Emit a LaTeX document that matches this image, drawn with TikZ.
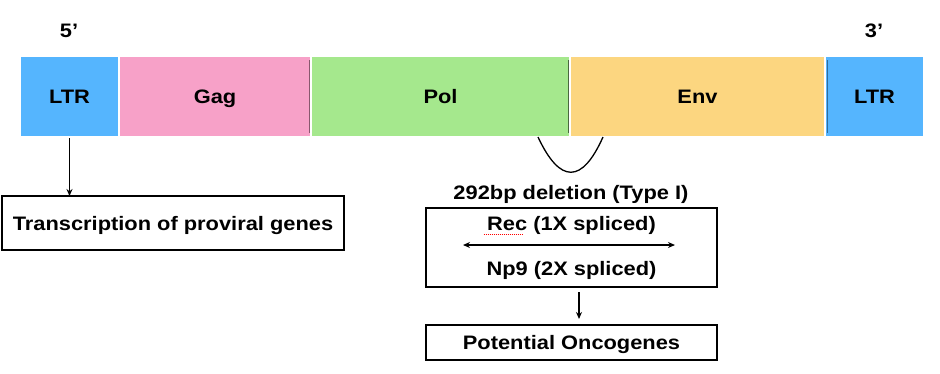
\documentclass[tikz,border=0pt]{standalone}
\usepackage{fontspec}
\setmainfont{Liberation Sans}[FakeStretch=1.12]
\usepackage{tikz}
\usetikzlibrary{positioning, arrows.meta}
\definecolor{ltrblue}{RGB}{85, 181, 254}
\definecolor{gagpink}{RGB}{247, 161, 200}
\definecolor{polgreen}{RGB}{165, 232, 141}
\definecolor{envyellow}{RGB}{252, 214, 128}

\begin{document}
\begin{tikzpicture}[x=1pt, y=-1pt, >={Stealth[length=7pt, width=6pt]},
    every node/.style={font=\bfseries\fontsize{19.5}{23}\selectfont, text height=14pt, text depth=0pt},
    seg/.style={minimum height=79pt, inner sep=0pt, outer sep=0pt},
    box/.style={draw, line width=1.8pt, inner sep=0pt, outer sep=0pt},
    link/.style={line width=1.3pt}]
    \useasboundingbox (0,0) rectangle (940,373);

    % Nodes
    \node (ltrA) [seg, fill=ltrblue, minimum width=97pt, anchor=north west] at (21,57) {LTR};
    \node (gag) [right=2pt of ltrA, seg, fill=gagpink, minimum width=190pt] {Gag};
    \node (pol) [right=2pt of gag, seg, fill=polgreen, minimum width=257pt] {Pol};
    \node (env) [right=2pt of pol, seg, fill=envyellow, minimum width=253pt] {Env};
    \node (ltrB) [right=2pt of env, seg, fill=ltrblue, minimum width=97pt] {LTR};

    \node (five) at (69,30) {5’};
    \node (three) at (874,30) {3’};

    \node (trans) [box, minimum width=342pt, minimum height=54pt] at (173,223) {Transcription of proviral genes};
    \node (del) at (571,192) {292bp deletion (Type I)};
    \node (splice) [box, minimum width=291pt, minimum height=79pt] at (571.5,247.5) {};
    \node (rec) at (571.5,223) {Rec (1X spliced)};
    \node (np9) at (571.5,268) {Np9 (2X spliced)};
    \node (onco) [box, minimum width=291pt, minimum height=35pt] at (571.5,342.5) {Potential Oncogenes};

    % edges of the segments
    \draw[gagpink!55!black, line width=1pt] ([xshift=-1pt, yshift=-3pt]gag.north east) -- ([xshift=-1pt, yshift=3pt]gag.south east);
    \draw[polgreen!45!black, line width=1pt] ([xshift=-1pt, yshift=-3pt]pol.north east) -- ([xshift=-1pt, yshift=3pt]pol.south east);
    \draw[ltrblue!60!black, line width=1pt] ([xshift=1pt, yshift=-3pt]ltrB.north west) -- ([xshift=1pt, yshift=3pt]ltrB.south west);

    % deletion loop
    \coordinate (cutL) at (538,137);
    \coordinate (cutR) at (603,137);
    \draw[link] (cutL) .. controls (560,184) and (582,184) .. (cutR);

    % spell-check mark under Rec
    \draw[red, densely dotted, line width=1pt] ([yshift=-4pt]rec.base west) -- ++(40,0);

    % Arrows
    \coordinate (spL) at (463,245);
    \coordinate (spR) at (675,245);
    \draw[link, ->] ([yshift=-2pt]ltrA.south) -- (ltrA.south |- trans.north);
    \draw[link, <->] (spL) -- (spR);
    \draw[link, ->] ([xshift=7.5pt, yshift=-5pt]splice.south) -- ([xshift=7.5pt, yshift=6pt]onco.north);
\end{tikzpicture}
\end{document}
